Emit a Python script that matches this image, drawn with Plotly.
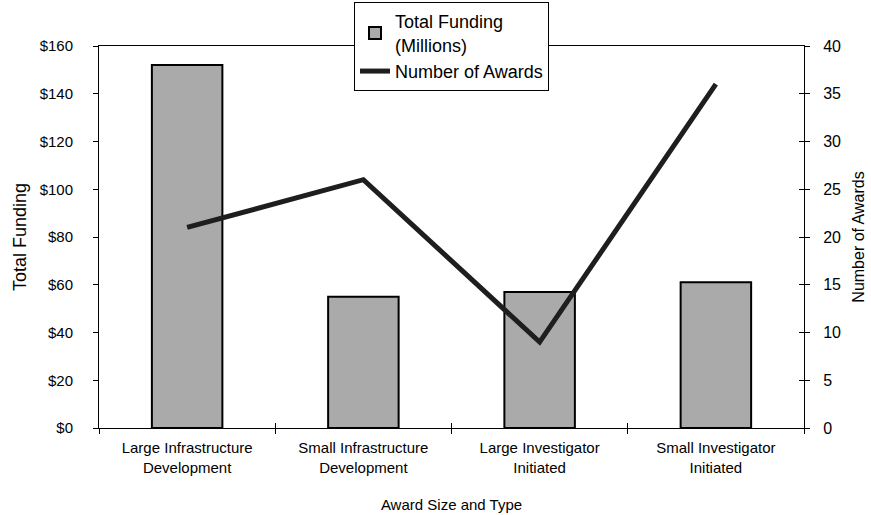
import plotly.graph_objects as go

# Award categories and their totals
categories = ["Large Infrastructure<br>Development", "Small Infrastructure<br>Development",
              "Large Investigator<br>Initiated", "Small Investigator<br>Initiated"]
funding_millions = [152, 55, 57, 61]
award_counts = [21, 26, 9, 36]

funding_ticks = [0, 20, 40, 60, 80, 100, 120, 140, 160]
funding_labels = ["$" + str(v) for v in funding_ticks]
award_ticks = [0, 5, 10, 15, 20, 25, 30, 35, 40]

FONT = "Liberation Sans, Arial, Helvetica, sans-serif"

fig = go.Figure()

fig.add_trace(go.Bar(
    x=categories, y=funding_millions,
    name="Total Funding<br>(Millions)",
    marker=dict(color="#aaaaaa", line=dict(color="black", width=2)),
    width=0.4,
    xaxis="x", yaxis="y",
))

fig.add_trace(go.Scatter(
    x=categories, y=award_counts,
    name="Number of Awards",
    mode="lines",
    line=dict(color="#1e1e1e", width=5),
    xaxis="x", yaxis="y2",
))

# empty helper trace on overlay axes that carry the inner half of the
# crossing tick marks (bottom and right)
fig.add_trace(go.Scatter(x=categories, y=[None] * 4, xaxis="x2", yaxis="y3",
                         showlegend=False, hoverinfo="skip"))

fig.update_layout(
    width=871, height=515,
    margin=dict(l=99, r=67, t=46, b=87, autoexpand=False),
    paper_bgcolor="white", plot_bgcolor="white",
    font=dict(family=FONT, size=15, color="black"),
    showlegend=True,
    legend=dict(
        x=0.5, xanchor="center", y=1.115, yanchor="top",
        bgcolor="white", bordercolor="black", borderwidth=1,
        font=dict(size=18, family=FONT), traceorder="normal",
        tracegroupgap=0,
    ),
    xaxis=dict(
        type="category", range=[-0.5, 3.5],
        showline=True, linecolor="black", linewidth=1, mirror=True,
        ticks="outside", ticklen=5, tickcolor="black", tickson="boundaries",
        ticklabelstandoff=6,
        showgrid=False, zeroline=False,
        tickfont=dict(size=15),
        title=dict(text="Award Size and Type", font=dict(size=15), standoff=24),
    ),
    xaxis2=dict(
        type="category", range=[-0.5, 3.5], overlaying="x", anchor="y3", side="bottom",
        ticks="inside", ticklen=5, tickcolor="black", tickson="boundaries",
        showticklabels=False, showgrid=False, showline=False, zeroline=False,
    ),
    yaxis=dict(
        range=[0, 160], tickvals=funding_ticks, ticktext=funding_labels,
        showline=True, linecolor="black", linewidth=1,
        ticks="outside", ticklen=5, tickcolor="black", tickwidth=1,
        ticklabelstandoff=17,
        showgrid=False, zeroline=False,
        tickfont=dict(size=15),
        title=dict(text="Total Funding", font=dict(size=18), standoff=8),
    ),
    yaxis2=dict(
        range=[0, 40], tickvals=award_ticks, overlaying="y", side="right", anchor="x",
        showline=True, linecolor="black", linewidth=1,
        ticks="outside", ticklen=5, tickcolor="black",
        ticklabelstandoff=10,
        showgrid=False, zeroline=False,
        tickfont=dict(size=16),
        title=dict(text="Number of Awards", font=dict(size=16), standoff=12),
    ),
    yaxis3=dict(
        range=[0, 40], tickvals=award_ticks, overlaying="y", side="right", anchor="x2",
        ticks="inside", ticklen=5, tickcolor="black",
        showticklabels=False, showgrid=False, showline=False, zeroline=False,
    ),
)

fig.write_html("out.html")
